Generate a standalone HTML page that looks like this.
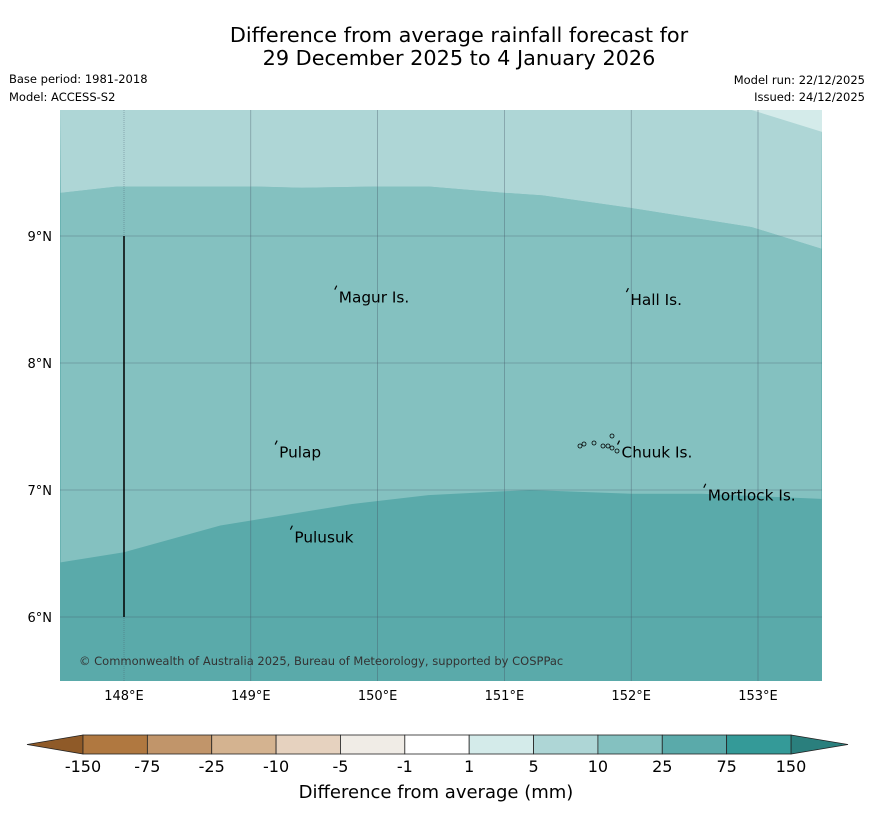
<!DOCTYPE html>
<html><head><meta charset="utf-8"><style>
body{margin:0;background:#fff;font-family:"Liberation Sans","DejaVu Sans",sans-serif;}
#wrap{position:relative;width:873px;height:816px;overflow:hidden;}
</style></head><body>
<div id="wrap">
<svg id="svg" width="873" height="816" xmlns="http://www.w3.org/2000/svg" font-family="DejaVu Sans, Liberation Sans, sans-serif">
<text x="459" y="42" text-anchor="middle" font-size="20.8">Difference from average rainfall forecast for</text>
<text x="459" y="65" text-anchor="middle" font-size="20.8">29 December 2025 to 4 January 2026</text>
<text x="9" y="83" font-size="11.5">Base period: 1981-2018</text>
<text x="9" y="101" font-size="11.5">Model: ACCESS-S2</text>
<text x="865" y="84" font-size="11.5" text-anchor="end">Model run: 22/12/2025</text>
<text x="865" y="101" font-size="11.5" text-anchor="end">Issued: 24/12/2025</text>
<g id="map"></g>
<g id="cbar"></g>
<text x="436" y="798" text-anchor="middle" font-size="18">Difference from average (mm)</text>
</svg>
</div>
<script>
const lonTicks=[148,149,150,151,152,153];
const latTicks=[6,7,8,9];
const upperBoundLon=[147.5,147.95,149.0,149.4,150.0,150.4,151.0,151.3,152.0,152.95,153.5];
const upperBoundLat=[9.34,9.39,9.39,9.38,9.39,9.39,9.34,9.32,9.22,9.07,8.90];
const cornerLon=[152.95,153.5];
const cornerLat=[9.99,9.82];
const lowerBoundLon=[147.5,148.0,148.76,149.8,150.4,151.2,152.0,152.55,153.5];
const lowerBoundLat=[6.43,6.51,6.72,6.89,6.96,7.0,6.97,6.97,6.93];
const places=["Magur Is.","Hall Is.","Pulap","Chuuk Is.","Mortlock Is.","Pulusuk"];
const placeLon=[149.67,151.97,149.2,151.9,152.58,149.32];
const placeLat=[8.57,8.55,7.35,7.35,7.01,6.68];
const cbLabels=["-150","-75","-25","-10","-5","-1","1","5","10","25","75","150"];
const cbColors=["#b07840","#c1956a","#d4b390","#e6d2bf","#f0ece6","#ffffff","#d4ebea","#aed6d6","#84c1c0","#5aaaaa","#349a98"];
const X0=60,X1=822,Y0=110,Y1=681;
const xs=l=>124+(l-148)*126.8;
const ys=l=>236-(l-9)*127;
const NS="http://www.w3.org/2000/svg";
function mk(t,a,p){const e=document.createElementNS(NS,t);for(const k in a)e.setAttribute(k,a[k]);p.appendChild(e);return e;}
const map=document.getElementById('map');
mk('rect',{x:X0,y:Y0,width:X1-X0,height:Y1-Y0,fill:'#5aaaaa'},map);
let d='M'+X0+','+Y0;
upperBoundLon.forEach((l,i)=>d+=' L'+xs(l)+','+ys(upperBoundLat[i]));
d+=' L'+X1+','+Y0+' Z';
let mid='';
upperBoundLon.forEach((l,i)=>mid+=(i?' L':'M')+xs(l)+','+ys(upperBoundLat[i]));
for(let i=lowerBoundLon.length-1;i>=0;i--)mid+=' L'+xs(lowerBoundLon[i])+','+ys(lowerBoundLat[i]);
mid+=' Z';
const m=mk('path',{d:mid,fill:'#84c1c0'},map);

const t=mk('path',{d:d,fill:'#aed6d6'},map);

const c=mk('path',{d:'M'+xs(cornerLon[0])+','+Y0+' L'+X1+','+Y0+' L'+X1+','+ys(cornerLat[1])+' Z',fill:'#d4ebea'},map);

lonTicks.forEach(l=>{const x=xs(l);
 mk('line',{x1:x,x2:x,y1:Y0,y2:Y1,stroke:'#456','stroke-width':0.6,'stroke-opacity':0.6,'stroke-dasharray':l===148?'1,1':''},map);
 const tx=mk('text',{x:x,y:700,'text-anchor':'middle','font-size':13},map);tx.textContent=l+'°E';
 
 });
latTicks.forEach(l=>{const y=ys(l);
 mk('line',{x1:X0,x2:X1,y1:y,y2:y,stroke:'#456','stroke-width':0.6,'stroke-opacity':0.6},map);
 const tx=mk('text',{x:52,y:y+5,'text-anchor':'end','font-size':13},map);tx.textContent=l+'°N';
 
 });
mk('line',{x1:xs(148),x2:xs(148),y1:ys(9),y2:ys(6),stroke:'#000','stroke-width':1.5},map);
places.forEach((p,i)=>{const x=xs(placeLon[i]),y=ys(placeLat[i]);
 mk('path',{d:'M'+(x-1)+','+(y-1)+' l2,-4',stroke:'#000','stroke-width':1.2,fill:'none'},map);
 const tx=mk('text',{x:x+3,y:y+12,'font-size':15.3},map);tx.textContent=p;
 
 });
[[580,446],[584,444],[594,443],[603,446],[608,446],[612,436],[612,448],[617,451]].forEach(p=>mk('circle',{cx:p[0],cy:p[1],r:2,fill:'none',stroke:'#000','stroke-width':0.8},map));
const cp=mk('text',{x:79,y:665,'font-size':11.5,fill:'#333'},map);cp.textContent='© Commonwealth of Australia 2025, Bureau of Meteorology, supported by COSPPac';


const cb=document.getElementById('cbar');
const CB0=83,CB1=791,CT=735,CBt=754,w=(CB1-CB0)/cbColors.length;
mk('path',{d:`M${CB0},${CT} L27,744.5 L${CB0},${CBt} Z`,fill:'#8f5a28',stroke:'#222','stroke-width':0.8},cb);
mk('path',{d:`M${CB1},${CT} L848,744.5 L${CB1},${CBt} Z`,fill:'#2a7f7d',stroke:'#222','stroke-width':0.8},cb);
cbColors.forEach((col,i)=>{const r=mk('rect',{x:CB0+i*w,y:CT,width:w,height:CBt-CT,fill:col,stroke:'#222','stroke-width':0.8},cb);
 });
cbLabels.forEach((l,i)=>{const tx=mk('text',{x:CB0+i*w,y:772,'text-anchor':'middle','font-size':16},cb);tx.textContent=l;
 
 });
</script>
</body></html>
